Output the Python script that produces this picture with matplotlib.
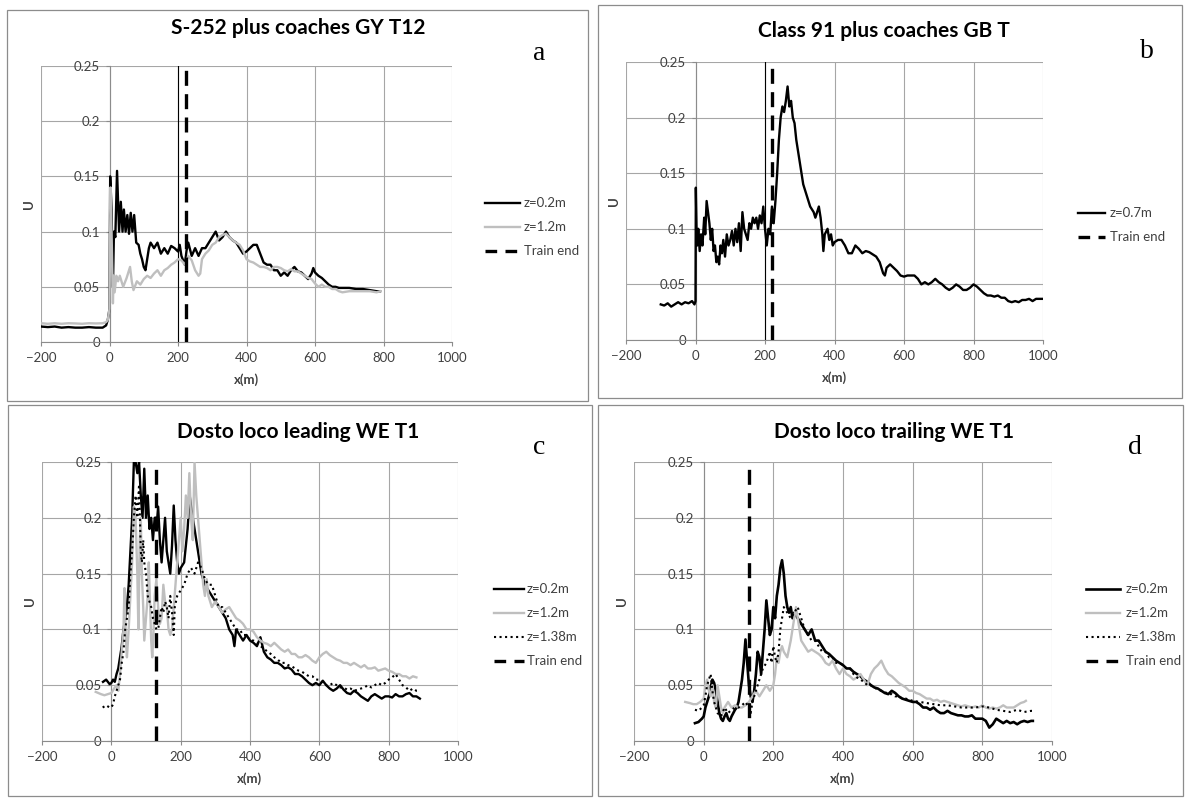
"""Four panel Excel-style plot of U vs x(m) for train passages."""

import matplotlib
matplotlib.use("Agg")
import matplotlib.pyplot as plt
from matplotlib.lines import Line2D
from matplotlib.patches import Rectangle

W, H = 1188, 799

# ---------------- panel a: S-252 plus coaches GY T12 ----------------
a_x02 = [-200, -180, -160, -140, -120, -100, -80, -60, -40, -20, -10, -5, 0, 2, 6, 10, 13, 17, 22, 28,
         33, 38, 42, 47, 52, 57, 62, 67, 72, 78, 85, 90, 95, 100, 105, 110, 115, 120, 130, 140,
         150, 160, 170, 180, 190, 200, 205, 210, 220, 225, 230, 240, 250, 260, 270, 280, 290, 300, 310, 320,
         330, 340, 350, 360, 370, 380, 390, 400, 410, 420, 430, 440, 450, 460, 470, 480, 490, 500, 510, 520,
         530, 540, 550, 560, 570, 580, 590, 595, 600, 610, 620, 630, 640, 650, 660, 670, 680, 700, 720, 740,
         760, 780, 790]
a_u02 = [0.014, 0.0135, 0.014, 0.013, 0.0135, 0.013, 0.013, 0.0135, 0.013, 0.013, 0.015, 0.02, 0.03, 0.15, 0.12, 0.05, 0.1, 0.095, 0.155, 0.1,
         0.127, 0.1, 0.12, 0.1, 0.115, 0.098, 0.117, 0.1, 0.115, 0.09, 0.088, 0.08, 0.075, 0.068, 0.065, 0.075, 0.085, 0.09, 0.085, 0.09,
         0.08, 0.085, 0.08, 0.087, 0.085, 0.082, 0.088, 0.078, 0.07, 0.083, 0.09, 0.078, 0.085, 0.078, 0.085, 0.085, 0.09, 0.095, 0.1, 0.092,
         0.095, 0.1, 0.095, 0.092, 0.09, 0.085, 0.08, 0.082, 0.085, 0.088, 0.088, 0.08, 0.072, 0.07, 0.07, 0.065, 0.065, 0.06, 0.063, 0.06,
         0.065, 0.068, 0.064, 0.063, 0.06, 0.057, 0.062, 0.067, 0.063, 0.06, 0.058, 0.055, 0.052, 0.05, 0.05, 0.049, 0.049, 0.049, 0.048, 0.048,
         0.047, 0.046, 0.046]
a_x12 = [-200, -180, -160, -140, -120, -100, -80, -60, -40, -20, -10, -5, 0, 3, 6, 10, 12, 15, 20, 25,
         30, 40, 50, 60, 65, 70, 80, 90, 100, 110, 120, 130, 140, 150, 160, 170, 180, 190, 200, 210,
         220, 230, 240, 250, 260, 265, 270, 280, 290, 300, 310, 320, 330, 340, 350, 360, 370, 380, 390, 400,
         410, 420, 430, 440, 450, 460, 470, 480, 490, 500, 510, 520, 530, 540, 550, 560, 570, 580, 590, 600,
         610, 620, 630, 640, 650, 660, 670, 680, 700, 720, 740, 760, 780, 790]
a_u12 = [0.017, 0.0165, 0.017, 0.0165, 0.017, 0.0168, 0.0165, 0.017, 0.0168, 0.017, 0.018, 0.02, 0.03, 0.14, 0.1, 0.035, 0.06, 0.045, 0.06, 0.055,
         0.06, 0.05, 0.058, 0.068, 0.055, 0.047, 0.055, 0.052, 0.057, 0.06, 0.058, 0.062, 0.065, 0.06, 0.065, 0.067, 0.07, 0.072, 0.075, 0.074,
         0.07, 0.078, 0.074, 0.065, 0.06, 0.062, 0.075, 0.08, 0.083, 0.088, 0.09, 0.095, 0.097, 0.098, 0.095, 0.092, 0.09, 0.088, 0.083, 0.075,
         0.073, 0.072, 0.07, 0.068, 0.068, 0.067, 0.065, 0.068, 0.068, 0.067, 0.065, 0.064, 0.066, 0.064, 0.064, 0.062, 0.06, 0.058, 0.057, 0.053,
         0.05, 0.052, 0.05, 0.05, 0.048, 0.048, 0.046, 0.045, 0.046, 0.046, 0.046, 0.046, 0.045, 0.046]
a_train_end = 223

# ---------------- panel b: Class 91 plus coaches GB T ----------------
b_x07 = [-100, -90, -80, -70, -60, -50, -40, -30, -20, -10, -3, 0, 1, 3, 5, 8, 12, 16, 20, 25,
         28, 32, 36, 40, 44, 48, 52, 56, 60, 64, 68, 72, 76, 80, 85, 90, 95, 100, 105, 110,
         115, 120, 125, 130, 135, 140, 145, 150, 155, 160, 165, 170, 175, 180, 185, 190, 195, 200, 205, 210,
         215, 220, 225, 230, 235, 240, 245, 250, 255, 260, 265, 270, 275, 280, 285, 290, 295, 300, 305, 310,
         315, 320, 325, 330, 340, 345, 350, 355, 360, 365, 368, 372, 380, 385, 390, 395, 400, 410, 420, 430,
         440, 450, 460, 470, 480, 490, 500, 510, 520, 530, 540, 545, 550, 560, 570, 580, 590, 600, 610, 620,
         630, 640, 650, 660, 670, 680, 690, 700, 710, 720, 730, 740, 750, 760, 770, 780, 790, 800, 810, 820,
         830, 840, 850, 860, 870, 880, 890, 900, 910, 920, 930, 940, 950, 960, 970, 980, 990, 1000]
b_u07 = [0.032, 0.031, 0.033, 0.030, 0.032, 0.034, 0.032, 0.034, 0.033, 0.035, 0.032, 0.035, 0.137, 0.1, 0.085, 0.1, 0.08, 0.095, 0.085, 0.11,
         0.095, 0.125, 0.115, 0.105, 0.09, 0.1, 0.08, 0.085, 0.07, 0.075, 0.068, 0.085, 0.078, 0.09, 0.075, 0.095, 0.085, 0.09, 0.098, 0.085,
         0.1, 0.088, 0.105, 0.08, 0.115, 0.1, 0.095, 0.09, 0.105, 0.1, 0.11, 0.105, 0.11, 0.1, 0.112, 0.105, 0.12, 0.1, 0.085, 0.1,
         0.095, 0.12, 0.105, 0.125, 0.15, 0.18, 0.2, 0.21, 0.205, 0.215, 0.228, 0.21, 0.215, 0.2, 0.195, 0.18, 0.17, 0.16, 0.15, 0.14,
         0.135, 0.13, 0.125, 0.12, 0.115, 0.11, 0.115, 0.12, 0.11, 0.095, 0.08, 0.095, 0.1, 0.09, 0.095, 0.085, 0.088, 0.09, 0.09, 0.085,
         0.078, 0.078, 0.085, 0.082, 0.078, 0.08, 0.079, 0.077, 0.075, 0.07, 0.06, 0.058, 0.065, 0.068, 0.065, 0.062, 0.058, 0.057, 0.058, 0.058,
         0.058, 0.055, 0.05, 0.052, 0.05, 0.052, 0.055, 0.052, 0.05, 0.047, 0.045, 0.047, 0.05, 0.048, 0.045, 0.045, 0.047, 0.05, 0.048, 0.045,
         0.042, 0.04, 0.04, 0.039, 0.04, 0.038, 0.038, 0.035, 0.034, 0.035, 0.034, 0.036, 0.036, 0.037, 0.035, 0.037, 0.037, 0.037]
b_train_end = 220

# ---------------- panel c: Dosto loco leading WE T1 ----------------
c_x02 = [-24, -15, -5, 0, 5, 10, 15, 20, 25, 30, 35, 40, 45, 50, 55, 60, 65, 70, 75, 80,
         85, 90, 95, 100, 105, 110, 115, 120, 125, 130, 135, 140, 145, 150, 155, 160, 165, 170, 175, 180,
         185, 190, 195, 200, 210, 220, 226, 230, 240, 250, 260, 270, 280, 290, 300, 310, 320, 330, 340, 350,
         355, 360, 370, 380, 390, 400, 410, 420, 430, 440, 450, 460, 470, 480, 490, 500, 510, 520, 530, 540,
         550, 560, 570, 580, 590, 600, 610, 620, 630, 640, 650, 660, 670, 680, 690, 700, 710, 720, 730, 740,
         750, 760, 770, 780, 790, 800, 810, 820, 830, 840, 850, 860, 870, 880, 890]
c_u02 = [0.053, 0.055, 0.051, 0.052, 0.055, 0.053, 0.06, 0.065, 0.075, 0.085, 0.1, 0.11, 0.12, 0.14, 0.17, 0.2, 0.25, 0.25, 0.24, 0.25,
         0.22, 0.2, 0.244, 0.2, 0.22, 0.19, 0.2, 0.18, 0.2, 0.19, 0.21, 0.18, 0.16, 0.18, 0.2, 0.17, 0.16, 0.15, 0.175, 0.211,
         0.18, 0.16, 0.15, 0.155, 0.16, 0.19, 0.22, 0.21, 0.19, 0.17, 0.15, 0.14, 0.135, 0.13, 0.125, 0.12, 0.115, 0.11, 0.1, 0.095,
         0.085, 0.1, 0.095, 0.09, 0.095, 0.09, 0.088, 0.085, 0.093, 0.08, 0.075, 0.073, 0.07, 0.07, 0.068, 0.065, 0.066, 0.064, 0.06, 0.06,
         0.058, 0.055, 0.052, 0.05, 0.052, 0.05, 0.054, 0.05, 0.047, 0.045, 0.047, 0.05, 0.046, 0.043, 0.042, 0.045, 0.043, 0.04, 0.038, 0.036,
         0.04, 0.042, 0.04, 0.038, 0.04, 0.04, 0.039, 0.042, 0.04, 0.04, 0.042, 0.043, 0.04, 0.04, 0.038]
c_x12 = [-45, -30, -20, -10, 0, 10, 15, 20, 25, 30, 35, 38, 42, 45, 50, 55, 60, 65, 70, 75,
         78, 82, 85, 88, 92, 95, 100, 105, 108, 112, 115, 118, 122, 125, 130, 135, 140, 145, 150, 155,
         160, 165, 170, 175, 180, 185, 190, 195, 200, 205, 210, 215, 220, 225, 230, 235, 240, 245, 250, 255,
         260, 265, 270, 275, 280, 290, 300, 310, 320, 330, 340, 350, 360, 370, 380, 390, 400, 410, 420, 430,
         440, 450, 460, 470, 480, 490, 500, 510, 520, 530, 540, 550, 560, 570, 580, 590, 600, 610, 620, 630,
         640, 650, 660, 670, 680, 690, 700, 710, 720, 730, 740, 750, 760, 770, 780, 790, 800, 810, 820, 830,
         840, 850, 860, 870, 880]
c_u12 = [0.044, 0.042, 0.041, 0.042, 0.043, 0.048, 0.05, 0.045, 0.06, 0.08, 0.1, 0.137, 0.09, 0.075, 0.1, 0.13, 0.16, 0.21, 0.2, 0.15,
         0.1, 0.18, 0.2, 0.15, 0.12, 0.09, 0.11, 0.13, 0.16, 0.12, 0.09, 0.075, 0.1, 0.13, 0.145, 0.12, 0.105, 0.11, 0.14, 0.125,
         0.12, 0.1, 0.095, 0.1, 0.12, 0.14, 0.16, 0.18, 0.2, 0.17, 0.19, 0.22, 0.2, 0.24, 0.2, 0.18, 0.25, 0.22, 0.2, 0.18,
         0.16, 0.14, 0.13, 0.145, 0.13, 0.12, 0.125, 0.12, 0.115, 0.118, 0.12, 0.115, 0.11, 0.108, 0.105, 0.1, 0.1, 0.098, 0.093, 0.09,
         0.088, 0.087, 0.085, 0.088, 0.085, 0.082, 0.08, 0.082, 0.078, 0.078, 0.075, 0.075, 0.077, 0.075, 0.072, 0.07, 0.075, 0.078, 0.08, 0.077,
         0.075, 0.073, 0.072, 0.07, 0.07, 0.068, 0.07, 0.068, 0.066, 0.068, 0.065, 0.065, 0.066, 0.063, 0.064, 0.065, 0.063, 0.062, 0.06, 0.06,
         0.058, 0.058, 0.056, 0.058, 0.057]
c_x138 = [-25, -15, -5, 0, 5, 10, 15, 20, 25, 30, 35, 40, 45, 50, 55, 60, 65, 70, 75, 80,
          85, 88, 92, 95, 100, 105, 110, 115, 120, 125, 130, 135, 140, 145, 150, 155, 160, 165, 170, 175,
          180, 183, 190, 200, 210, 220, 230, 240, 250, 260, 270, 280, 290, 300, 310, 320, 330, 340, 350, 360,
          370, 380, 390, 400, 410, 420, 430, 440, 450, 460, 470, 480, 490, 500, 510, 520, 530, 540, 550, 560,
          570, 580, 590, 600, 610, 620, 630, 640, 650, 660, 670, 680, 690, 700, 710, 720, 730, 740, 750, 760,
          770, 780, 790, 800, 810, 820, 830, 840, 850, 860, 870, 880, 890]
c_u138 = [0.03, 0.032, 0.03, 0.03, 0.033, 0.04, 0.045, 0.05, 0.055, 0.07, 0.08, 0.1, 0.11, 0.12, 0.15, 0.17, 0.2, 0.22, 0.2, 0.23,
          0.17, 0.16, 0.18, 0.16, 0.15, 0.13, 0.125, 0.12, 0.11, 0.105, 0.1, 0.1, 0.11, 0.12, 0.115, 0.125, 0.12, 0.11, 0.13, 0.115,
          0.095, 0.12, 0.13, 0.135, 0.14, 0.15, 0.155, 0.15, 0.16, 0.155, 0.145, 0.14, 0.14, 0.13, 0.12, 0.12, 0.115, 0.11, 0.105, 0.1,
          0.1, 0.095, 0.095, 0.09, 0.09, 0.088, 0.085, 0.083, 0.08, 0.078, 0.075, 0.073, 0.07, 0.07, 0.068, 0.067, 0.065, 0.063, 0.062, 0.06,
          0.058, 0.058, 0.055, 0.055, 0.052, 0.05, 0.05, 0.052, 0.05, 0.048, 0.048, 0.046, 0.047, 0.045, 0.046, 0.047, 0.048, 0.05, 0.048, 0.05,
          0.052, 0.05, 0.052, 0.055, 0.057, 0.06, 0.055, 0.05, 0.048, 0.045, 0.047, 0.045, 0.045]
c_train_end = 130

# ---------------- panel d: Dosto loco trailing WE T1 ----------------
d_x02 = [-25, -15, -5, 0, 5, 10, 15, 20, 25, 30, 35, 40, 45, 50, 55, 60, 65, 70, 75, 80,
         85, 90, 95, 100, 105, 110, 115, 120, 125, 130, 135, 140, 145, 150, 155, 160, 165, 170, 175, 180,
         185, 190, 195, 200, 205, 210, 215, 220, 225, 230, 235, 240, 245, 250, 255, 260, 270, 280, 290, 300,
         310, 320, 330, 340, 350, 360, 370, 380, 390, 400, 410, 420, 430, 440, 450, 460, 470, 480, 490, 500,
         510, 520, 530, 540, 550, 560, 570, 580, 590, 600, 610, 620, 630, 640, 650, 660, 670, 680, 690, 700,
         710, 720, 730, 740, 750, 760, 770, 780, 790, 800, 810, 820, 830, 840, 850, 860, 870, 880, 890, 900,
         910, 920, 930, 940, 945]
d_u02 = [0.016, 0.017, 0.02, 0.022, 0.03, 0.035, 0.04, 0.048, 0.055, 0.052, 0.045, 0.035, 0.025, 0.02, 0.018, 0.022, 0.025, 0.02, 0.018, 0.022,
         0.025, 0.028, 0.03, 0.035, 0.045, 0.055, 0.07, 0.091, 0.07, 0.05, 0.04, 0.035, 0.045, 0.06, 0.08, 0.075, 0.06, 0.08, 0.1, 0.126,
         0.11, 0.095, 0.1, 0.12, 0.11, 0.13, 0.14, 0.155, 0.162, 0.15, 0.13, 0.12, 0.115, 0.12, 0.11, 0.115, 0.11, 0.105, 0.1, 0.095,
         0.1, 0.09, 0.09, 0.085, 0.08, 0.078, 0.075, 0.072, 0.07, 0.068, 0.065, 0.065, 0.062, 0.06, 0.058, 0.055, 0.053, 0.05, 0.048, 0.047,
         0.045, 0.043, 0.042, 0.045, 0.043, 0.04, 0.038, 0.037, 0.036, 0.035, 0.035, 0.033, 0.03, 0.03, 0.028, 0.03, 0.027, 0.025, 0.025, 0.027,
         0.025, 0.024, 0.023, 0.023, 0.022, 0.022, 0.023, 0.02, 0.02, 0.02, 0.018, 0.012, 0.015, 0.02, 0.018, 0.016, 0.018, 0.016, 0.017, 0.015,
         0.017, 0.018, 0.017, 0.018, 0.018]
d_x12 = [-53, -40, -30, -20, -10, 0, 5, 10, 15, 20, 25, 30, 35, 40, 45, 50, 55, 60, 70, 80,
         90, 100, 110, 120, 130, 140, 150, 160, 170, 180, 190, 200, 205, 210, 215, 220, 225, 230, 240, 250,
         255, 260, 265, 270, 275, 280, 290, 300, 310, 320, 330, 340, 350, 360, 370, 380, 390, 400, 410, 420,
         430, 440, 450, 460, 470, 480, 490, 500, 510, 520, 530, 540, 550, 560, 570, 580, 590, 600, 610, 620,
         630, 640, 650, 660, 670, 680, 690, 700, 710, 720, 730, 740, 750, 760, 770, 780, 790, 800, 810, 820,
         830, 840, 850, 860, 870, 880, 890, 900, 910, 920, 925]
d_u12 = [0.035, 0.034, 0.033, 0.033, 0.035, 0.038, 0.05, 0.055, 0.045, 0.04, 0.05, 0.035, 0.03, 0.05, 0.04, 0.03, 0.025, 0.03, 0.035, 0.03,
         0.032, 0.03, 0.03, 0.032, 0.035, 0.04, 0.045, 0.04, 0.045, 0.05, 0.045, 0.05, 0.06, 0.075, 0.07, 0.08, 0.085, 0.08, 0.075, 0.09,
         0.1, 0.11, 0.12, 0.11, 0.1, 0.09, 0.085, 0.08, 0.082, 0.08, 0.078, 0.075, 0.07, 0.068, 0.072, 0.065, 0.06, 0.065, 0.06, 0.058,
         0.055, 0.057, 0.06, 0.055, 0.05, 0.06, 0.065, 0.068, 0.072, 0.065, 0.06, 0.058, 0.055, 0.052, 0.05, 0.048, 0.045, 0.045, 0.043, 0.042,
         0.04, 0.038, 0.038, 0.036, 0.037, 0.035, 0.036, 0.035, 0.034, 0.033, 0.032, 0.031, 0.032, 0.031, 0.03, 0.031, 0.03, 0.032, 0.03, 0.029,
         0.03, 0.029, 0.03, 0.032, 0.03, 0.03, 0.03, 0.032, 0.034, 0.035, 0.036]
d_x138 = [-25, -15, -5, 0, 5, 10, 15, 20, 25, 30, 35, 40, 50, 60, 70, 80, 90, 100, 110, 120,
          130, 135, 140, 150, 160, 170, 180, 185, 190, 195, 200, 205, 210, 215, 220, 225, 230, 240, 250, 260,
          270, 280, 290, 300, 310, 320, 330, 340, 350, 360, 370, 380, 390, 400, 410, 420, 430, 440, 450, 460,
          470, 480, 490, 500, 510, 520, 530, 540, 550, 560, 570, 580, 590, 600, 620, 640, 660, 680, 700, 720,
          740, 760, 780, 800, 820, 840, 860, 880, 900, 920, 940, 945]
d_u138 = [0.028, 0.027, 0.03, 0.032, 0.04, 0.05, 0.055, 0.06, 0.045, 0.035, 0.03, 0.025, 0.022, 0.03, 0.025, 0.028, 0.03, 0.03, 0.032, 0.035,
          0.03, 0.025, 0.035, 0.045, 0.055, 0.065, 0.07, 0.075, 0.08, 0.07, 0.085, 0.075, 0.07, 0.08, 0.1, 0.11, 0.12, 0.115, 0.11, 0.115,
          0.12, 0.11, 0.1, 0.095, 0.09, 0.09, 0.085, 0.08, 0.08, 0.075, 0.075, 0.07, 0.07, 0.068, 0.065, 0.065, 0.06, 0.057, 0.055, 0.053,
          0.05, 0.05, 0.048, 0.046, 0.045, 0.044, 0.042, 0.042, 0.04, 0.04, 0.038, 0.038, 0.037, 0.036, 0.035, 0.034, 0.033, 0.032, 0.032, 0.031,
          0.03, 0.03, 0.03, 0.031, 0.03, 0.028, 0.027, 0.026, 0.028, 0.026, 0.027, 0.027]
d_train_end = 130

titles = ["S-252 plus coaches GY T12", "Class 91 plus coaches GB T",
          "Dosto loco leading WE T1", "Dosto loco trailing WE T1"]
letters = ["a", "b", "c", "d"]
x_ticks = [-200, 0, 200, 400, 600, 800, 1000]
y_ticks = [0, 0.05, 0.1, 0.15, 0.2, 0.25]
y_tick_labels = ["0", "0.05", "0.1", "0.15", "0.2", "0.25"]
dark_grid_x = 200

GRAY = "#BFBFBF"
GRID = "#A6A6A6"
TXT = "#404040"

# pixel layout: box, plot area, title pos, letter pos, legend (x0, x1, text x, first row y)
panels = [
    dict(box=(7, 10, 588, 401), plot=(41, 66, 452, 342), title=(298, 28), letter=(539, 53),
         leg=(485, 520, 524, 203)),
    dict(box=(598, 5, 1182, 398), plot=(626, 62, 1043, 340), title=(884, 31), letter=(1147, 52),
         leg=(1078, 1105, 1110, 213)),
    dict(box=(8, 405, 592, 796), plot=(42, 462, 458, 741), title=(298, 432), letter=(539, 447),
         leg=(494, 524, 527, 589)),
    dict(box=(598, 405, 1183, 796), plot=(634, 462, 1052, 741), title=(894, 432), letter=(1135, 447),
         leg=(1086, 1120, 1126, 589)),
]

series = [
    [(a_x02, a_u02, "z=0.2m", dict(color="black", lw=1.7)),
     (a_x12, a_u12, "z=1.2m", dict(color=GRAY, lw=1.7))],
    [(b_x07, b_u07, "z=0.7m", dict(color="black", lw=1.7))],
    [(c_x02, c_u02, "z=0.2m", dict(color="black", lw=1.7)),
     (c_x12, c_u12, "z=1.2m", dict(color=GRAY, lw=1.7)),
     (c_x138, c_u138, "z=1.38m", dict(color="black", lw=1.5, ls=":"))],
    [(d_x02, d_u02, "z=0.2m", dict(color="black", lw=1.9)),
     (d_x12, d_u12, "z=1.2m", dict(color=GRAY, lw=1.7)),
     (d_x138, d_u138, "z=1.38m", dict(color="black", lw=1.5, ls=":"))],
]
train_ends = [a_train_end, b_train_end, c_train_end, d_train_end]

plt.rcParams["font.family"] = ["Lato", "DejaVu Sans"]

fig = plt.figure(figsize=(W / 100, H / 100), dpi=100)
fig.patch.set_facecolor("white")


def fx(px):
    return px / W


def fy(py):
    return 1 - py / H


for i, p in enumerate(panels):
    bx0, by0, bx1, by1 = p["box"]
    fig.add_artist(Rectangle((fx(bx0), fy(by1)), fx(bx1 - bx0), (by1 - by0) / H,
                             transform=fig.transFigure, fill=False, ec="#8C8C8C", lw=0.9))
    x0, y0, x1, y1 = p["plot"]
    ax = fig.add_axes([fx(x0), fy(y1), fx(x1 - x0), (y1 - y0) / H])
    ax.set_xlim(-200, 1000)
    ax.set_ylim(0, 0.25)
    ax.set_xticks(x_ticks)
    ax.set_yticks(y_ticks)
    ax.set_yticklabels(y_tick_labels)
    ax.grid(True, color=GRID, lw=0.8)
    ax.set_axisbelow(True)
    for s in ("top", "right"):
        ax.spines[s].set_visible(False)
    ax.spines["left"].set_position(("data", 0))
    ax.spines["left"].set_color("#8C8C8C")
    ax.spines["bottom"].set_color("#8C8C8C")
    ax.tick_params(axis="both", colors="#8C8C8C", labelcolor=TXT, labelsize=9.5, length=3, width=0.8)
    ax.tick_params(axis="x", pad=4)
    ax.tick_params(axis="y", pad=4)
    if i < 2:
        ax.axvline(dark_grid_x, color="black", lw=0.8, zorder=1)

    for xs, us, lab, st in series[i]:
        ax.plot(xs, us, solid_joinstyle="round", zorder=3, **st)
    ax.axvline(train_ends[i], color="black", lw=2.4, ls=(0, (4.5, 2.5)), zorder=4)

    ax.set_xlabel("x(m)", fontsize=9.5, fontweight="bold", color=TXT)
    ax.xaxis.set_label_coords(0.5, -0.112)
    ax.set_ylabel("U", fontsize=9.5, fontweight="bold", color=TXT)
    ax.yaxis.set_label_coords(-0.014, 0.5)

    tx, ty = p["title"]
    fig.text(fx(tx), fy(ty), titles[i], ha="center", va="center", fontsize=15, fontweight="bold")
    lx, ly = p["letter"]
    fig.text(fx(lx), fy(ly), letters[i], ha="center", va="center", fontsize=20,
             family=["Liberation Serif", "DejaVu Serif"])

    gx0, gx1, gtx, gy = p["leg"]
    entries = [(lab, st) for _, _, lab, st in series[i]]
    entries.append(("Train end", dict(color="black", lw=2.4, ls=(0, (3.5, 2.5)))))
    for k, (lab, st) in enumerate(entries):
        yy = fy(gy + 24 * k)
        fig.add_artist(Line2D([fx(gx0), fx(gx1)], [yy, yy], transform=fig.transFigure, **st))
        fig.text(fx(gtx), yy, lab, ha="left", va="center", fontsize=9.5, color=TXT)

fig.savefig("out.png", dpi=100, facecolor="white")
